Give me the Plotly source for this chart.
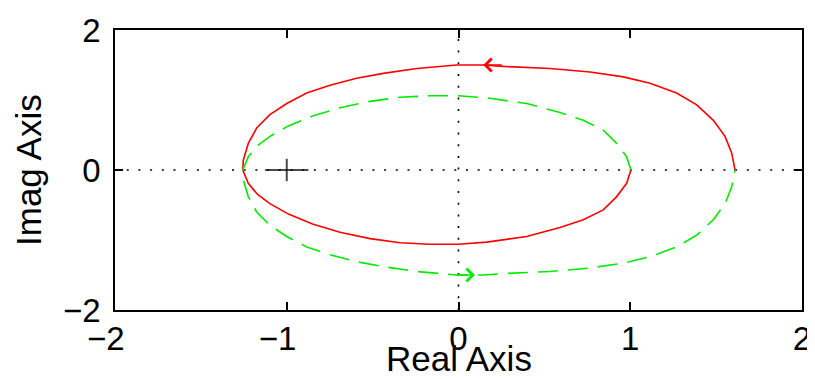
import plotly.graph_objects as go

# positive frequencies (red, solid)
pos_re = [1.61, 1.591, 1.552, 1.484, 1.387, 1.27, 1.115, 0.96, 0.766, 0.533, 0.261, 0.144,
          -0.01, -0.243, -0.438, -0.593, -0.748, -0.884, -1.0, -1.098, -1.175, -1.224, -1.253,
          -1.256, -1.224, -1.17, -1.098, -0.99, -0.85, -0.69, -0.515, -0.34, -0.17, 0.0,
          0.164, 0.397, 0.591, 0.727, 0.843, 0.921, 0.979, 1.004]
pos_im = [0.0, 0.24, 0.48, 0.71, 0.93, 1.10, 1.24, 1.33, 1.40, 1.45, 1.48, 1.50,
          1.50, 1.45, 1.38, 1.31, 1.21, 1.10, 0.95, 0.79, 0.60, 0.38, 0.14,
          0.0, -0.19, -0.35, -0.48, -0.63, -0.77, -0.89, -0.98, -1.04, -1.06, -1.06,
          -1.03, -0.95, -0.82, -0.71, -0.57, -0.38, -0.19, 0.0]

# negative frequencies (green, dashed)
neg_re = [1.004, 0.979, 0.921, 0.843, 0.727, 0.591, 0.397, 0.164, 0.0, -0.17, -0.34, -0.515,
          -0.69, -0.85, -0.99, -1.098, -1.17, -1.224, -1.256, -1.253, -1.224, -1.175, -1.098,
          -1.0, -0.884, -0.748, -0.593, -0.438, -0.243, -0.01, 0.144, 0.261, 0.533, 0.766,
          0.96, 1.115, 1.27, 1.387, 1.484, 1.552, 1.591, 1.61]
neg_im = [0.0, 0.19, 0.38, 0.57, 0.71, 0.82, 0.95, 1.03, 1.06, 1.06, 1.04, 0.98,
          0.89, 0.77, 0.63, 0.48, 0.35, 0.19, 0.0, -0.14, -0.38, -0.60, -0.79,
          -0.95, -1.10, -1.21, -1.31, -1.38, -1.45, -1.50, -1.50, -1.48, -1.45, -1.40,
          -1.33, -1.24, -1.10, -0.93, -0.71, -0.48, -0.24, 0.0]

# direction arrows
pos_arrow = (0.144, 1.50)
neg_arrow = (0.096, -1.50)

crit_pt = (-1, 0)
x_ticks = [-2, -1, 0, 1, 2]
# digits sit on the tick, minus sign hangs to the left (padded with nbsp)
x_ticktext = ["\u22122\u00a0\u00a0", "\u22121\u00a0\u00a0", "0", "1", "2"]
y_ticks = [-2, 0, 2]

RED = "rgb(255,0,0)"
GREEN = "rgb(0,235,0)"
FONT = "Liberation Sans, Arial, sans-serif"

fig = go.Figure()

fig.add_trace(go.Scatter(x=pos_re, y=pos_im, mode="lines",
                         line=dict(color=RED, width=1.6)))
fig.add_trace(go.Scatter(x=neg_re, y=neg_im, mode="lines",
                         line=dict(color=GREEN, width=1.6, dash="20px,10px")))
fig.add_trace(go.Scatter(x=[crit_pt[0], crit_pt[0]], y=[crit_pt[1], crit_pt[1]], mode="markers",
                         marker=dict(symbol=["line-ew", "line-ns"], size=[31, 16],
                                     line=dict(color="black", width=2))))

# dotted zero lines
dots = dict(color="black", width=1.6, dash="2px,9.7px")
fig.add_shape(type="line", xref="paper", yref="y", x0=0, x1=1, y0=0, y1=0, line=dots, layer="below")
fig.add_shape(type="line", xref="x", yref="paper", x0=0, x1=0, y0=0, y1=1, line=dots, layer="below")

fig.add_annotation(x=pos_arrow[0], y=pos_arrow[1], ax=20, ay=0, text="", showarrow=True,
                   arrowhead=4, arrowsize=1.8, arrowwidth=1.4, arrowcolor=RED)
fig.add_annotation(x=neg_arrow[0], y=neg_arrow[1], ax=-20, ay=0, text="", showarrow=True,
                   arrowhead=4, arrowsize=1.8, arrowwidth=1.4, arrowcolor=GREEN)

# axis titles
title_font = dict(family=FONT, size=35, color="black")
fig.add_annotation(text="Real Axis", xref="paper", yref="paper", x=0.5, y=0,
                   xanchor="center", yanchor="middle", yshift=-48, showarrow=False, font=title_font)
fig.add_annotation(text="Imag Axis", xref="paper", yref="paper", x=0, y=0.5, textangle=-90,
                   xanchor="center", yanchor="middle", xshift=-87, yshift=0, showarrow=False,
                   font=title_font)

axis_common = dict(showgrid=False, zeroline=False, showline=True, linecolor="black",
                   linewidth=1.5, mirror="ticks", ticks="inside", ticklen=8, tickwidth=1.5,
                   tickcolor="black", automargin=False,
                   tickfont=dict(family=FONT, size=33, color="black"))

# the page body adds an 8px offset, so the figure is 8px smaller
fig.update_layout(
    width=807, height=371,
    margin=dict(l=107, r=13, t=22, b=69),
    paper_bgcolor="white", plot_bgcolor="white",
    showlegend=False,
    xaxis=dict(range=[-2, 2], tickvals=x_ticks, ticktext=x_ticktext, **axis_common,
               ticklabelstandoff=-1),
    yaxis=dict(range=[-2, 2], tickvals=y_ticks, **axis_common, ticklabelstandoff=6),
)

fig.write_html("out.html")
